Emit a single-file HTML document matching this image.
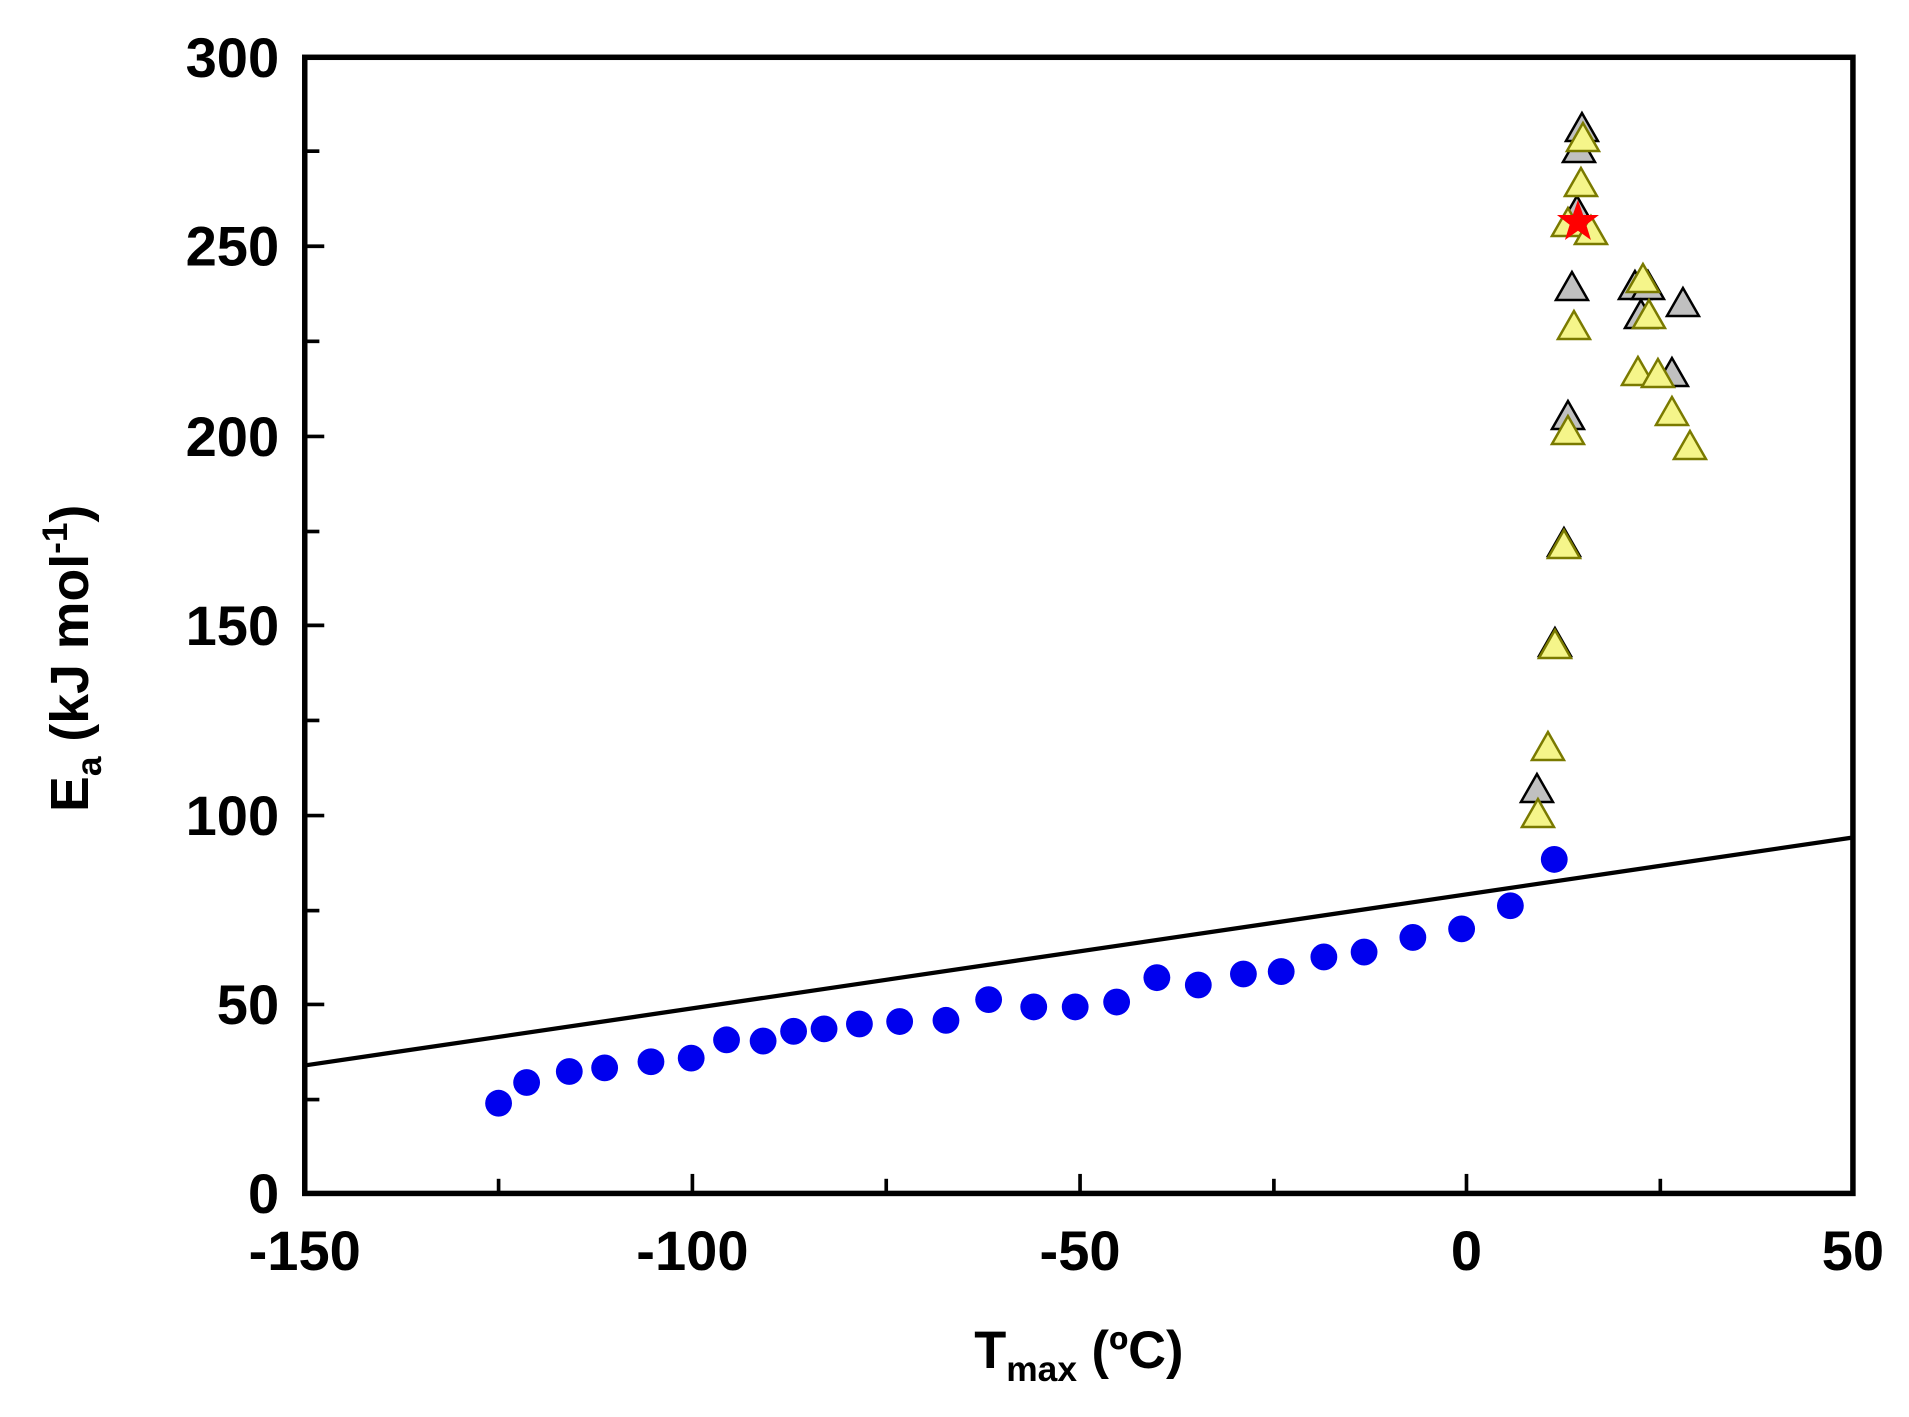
<!DOCTYPE html>
<html><head><meta charset="utf-8"><style>
html,body{margin:0;padding:0;background:#fff;}
svg{display:block;}
text{font-family:"Liberation Sans",Arial,sans-serif;font-weight:bold;fill:#000;}
</style></head><body>
<svg width="1909" height="1417" viewBox="0 0 1566 1162.4" xmlns="http://www.w3.org/2000/svg">
<defs>
<path id="tg" d="M0,-17 L16,11 L-16,11 Z" fill="#c0c0c0" stroke="#000" stroke-width="2.5"/>
<path id="ty" d="M0,-17 L16,11 L-16,11 Z" fill="#f5f58a" stroke="#7a7a00" stroke-width="2.5"/>
</defs>
<line x1="250" y1="874" x2="1520" y2="687" stroke="#000" stroke-width="3.5"/>
<g stroke="#000" stroke-width="3">
<line x1="250" y1="124" x2="262" y2="124"/><line x1="250" y1="280" x2="262" y2="280"/><line x1="250" y1="436" x2="262" y2="436"/><line x1="250" y1="591" x2="262" y2="591"/><line x1="250" y1="747" x2="262" y2="747"/><line x1="250" y1="902" x2="262" y2="902"/>
<line x1="250" y1="202" x2="266" y2="202"/><line x1="250" y1="358" x2="266" y2="358"/><line x1="250" y1="513" x2="266" y2="513"/><line x1="250" y1="669" x2="266" y2="669"/><line x1="250" y1="824" x2="266" y2="824"/>
<line x1="409" y1="979" x2="409" y2="967"/><line x1="727" y1="979" x2="727" y2="967"/><line x1="1045" y1="979" x2="1045" y2="967"/><line x1="1362" y1="979" x2="1362" y2="967"/>
<line x1="568" y1="979" x2="568" y2="963"/><line x1="886" y1="979" x2="886" y2="963"/><line x1="1203" y1="979" x2="1203" y2="963"/>
</g>
<rect x="250" y="47" width="1270" height="932" fill="none" stroke="#000" stroke-width="4.5"/>
<g font-size="46" text-anchor="end">
<text x="229" y="63">300</text><text x="229" y="218">250</text><text x="229" y="374">200</text><text x="229" y="529">150</text><text x="229" y="685">100</text><text x="229" y="840">50</text><text x="229" y="995">0</text>
</g>
<g font-size="46" text-anchor="middle">
<text x="250" y="1042">-150</text><text x="568" y="1042">-100</text><text x="886" y="1042">-50</text><text x="1203" y="1042">0</text><text x="1520" y="1042">50</text>
</g>
<text x="885" y="1122" font-size="43" text-anchor="middle">T<tspan font-size="29" dy="11">max</tspan><tspan dy="-11"> (ºC)</tspan></text>
<text transform="translate(72,540) rotate(-90)" font-size="44" text-anchor="middle">E<tspan font-size="29" dy="11">a</tspan><tspan dy="-11"> (kJ mol</tspan><tspan font-size="29" dy="-17">-1</tspan><tspan dy="17">)</tspan></text>
<g fill="#0000ee">
<circle cx="409" cy="905" r="11"/><circle cx="432" cy="888" r="11"/><circle cx="467" cy="879" r="11"/><circle cx="496" cy="876" r="11"/><circle cx="534" cy="871" r="11"/><circle cx="567" cy="868" r="11"/><circle cx="596" cy="853" r="11"/><circle cx="626" cy="854" r="11"/><circle cx="651" cy="846" r="11"/><circle cx="676" cy="844" r="11"/><circle cx="705" cy="840" r="11"/><circle cx="738" cy="838" r="11"/><circle cx="776" cy="837" r="11"/><circle cx="811" cy="820" r="11"/><circle cx="848" cy="826" r="11"/><circle cx="882" cy="826" r="11"/><circle cx="916" cy="822" r="11"/><circle cx="949" cy="802" r="11"/><circle cx="983" cy="808" r="11"/><circle cx="1020" cy="799" r="11"/><circle cx="1051" cy="797" r="11"/><circle cx="1086" cy="785" r="11"/><circle cx="1119" cy="781" r="11"/><circle cx="1159" cy="769" r="11"/><circle cx="1199" cy="762" r="11"/><circle cx="1239" cy="743" r="11"/><circle cx="1275" cy="705" r="11"/>
</g>
<g transform="scale(0.8203)">
<use href="#tg" x="1582" y="130"/><use href="#tg" x="1579" y="151"/><use href="#tg" x="1577" y="213"/><use href="#tg" x="1572" y="289"/><use href="#tg" x="1635" y="288"/><use href="#tg" x="1648" y="288"/><use href="#tg" x="1683" y="305"/><use href="#tg" x="1641" y="317"/><use href="#tg" x="1672" y="375"/><use href="#tg" x="1568" y="418"/>
<use href="#tg" x="1564" y="545"/><use href="#tg" x="1555" y="645"/><use href="#tg" x="1537" y="791"/>
<use href="#ty" x="1568" y="225"/>
<use href="#ty" x="1583" y="140"/><use href="#ty" x="1581" y="185"/><use href="#ty" x="1591" y="233"/><use href="#ty" x="1643" y="281"/><use href="#ty" x="1574" y="328"/><use href="#ty" x="1649" y="317"/><use href="#ty" x="1638" y="374"/><use href="#ty" x="1658" y="376"/><use href="#ty" x="1672" y="414"/><use href="#ty" x="1690" y="448"/><use href="#ty" x="1568" y="433"/>
<use href="#ty" x="1564" y="547"/><use href="#ty" x="1555" y="647"/><use href="#ty" x="1548" y="749"/><use href="#ty" x="1538" y="816"/>
<path transform="translate(1578,222)" d="M0,-22 L5.2,-7 L21,-7 L8.3,2.7 L13,18 L0,8.8 L-13,18 L-8.3,2.7 L-21,-7 L-5.2,-7 Z" fill="#ff0000"/>
</g>
</svg>
</body></html>
